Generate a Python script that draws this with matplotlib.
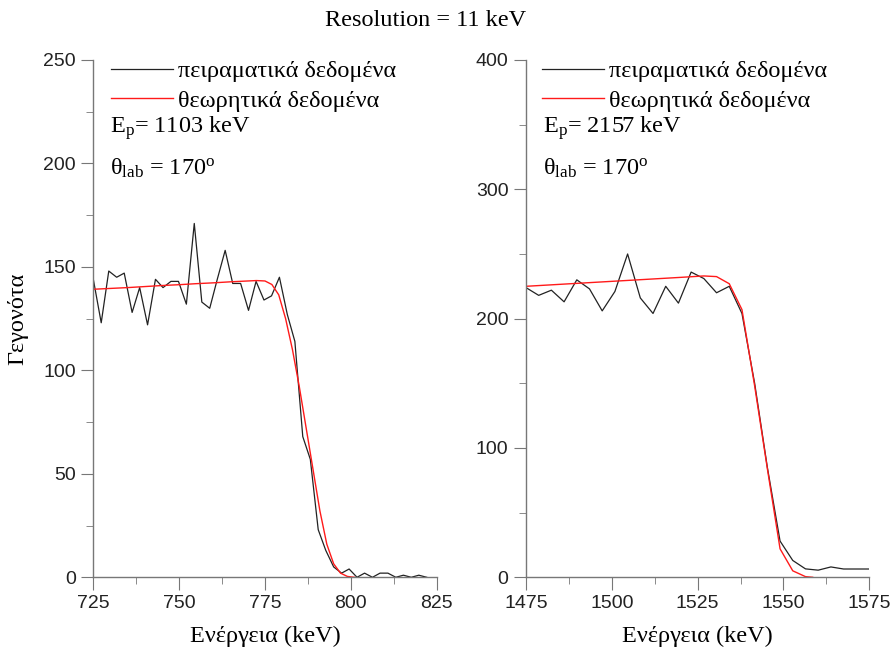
import matplotlib
matplotlib.use("Agg")
import matplotlib.pyplot as plt
from matplotlib.ticker import MultipleLocator

plt.rcParams["mathtext.fontset"] = "custom"
plt.rcParams["mathtext.rm"] = "Liberation Serif"
plt.rcParams["mathtext.it"] = "Liberation Serif:italic"

SERIF = "Liberation Serif"
SANS = "Liberation Sans"
FS = 17.5

# left panel, Ep = 1103 keV
exp1_x = [725.0, 727.3, 729.5, 731.8, 734.0, 736.3, 738.5, 740.8, 743.1, 745.3,
          747.6, 749.8, 752.1, 754.4, 756.6, 758.9, 761.1, 763.4, 765.6, 767.9,
          770.2, 772.4, 774.7, 776.9, 779.2, 781.5, 783.7, 786.0, 788.2, 790.5,
          792.7, 795.0, 797.3, 799.5, 801.8, 804.0, 806.3, 808.5, 810.8, 813.1,
          815.3, 817.6, 819.8, 822.1]
exp1_y = [144, 123, 148, 145, 147, 128, 140, 122, 144, 140,
          143, 143, 132, 171, 133, 130, 144, 158, 142, 142,
          129, 143, 134, 136, 145, 127, 114, 68, 57, 23,
          13, 5, 2, 4, 0, 2, 0, 2, 2, 0,
          1, 0, 1, 0]
th1_x = [725, 730, 735, 740, 745, 750, 755, 760, 765, 770, 772.5, 775, 777, 779,
         781, 783, 785, 787, 789, 791, 793, 795, 797, 799, 801]
th1_y = [139.2, 139.6, 140.0, 140.5, 141.0, 141.4, 141.9, 142.3, 142.8, 143.2,
         143.4, 143.2, 141.5, 136.5, 125, 110, 92, 72, 52, 32, 16, 6.5, 2, 0.4, 0]

# right panel, Ep = 2157 keV
exp2_x = [1475.0, 1478.7, 1482.4, 1486.1, 1489.8, 1493.5, 1497.2, 1500.9, 1504.6, 1508.3,
          1512.0, 1515.7, 1519.4, 1523.1, 1526.8, 1530.5, 1534.2, 1537.9, 1541.6, 1545.3,
          1549.0, 1552.7, 1556.4, 1560.1, 1563.8, 1567.5, 1571.2, 1575.0]
exp2_y = [224, 218, 222, 213, 230, 223, 206, 221, 250, 216,
          204, 225, 212, 236, 231, 220, 225, 204, 150, 85,
          28, 13, 6.5, 5.5, 8, 6.4, 6.4, 6.4]
th2_x = [1475, 1490, 1505, 1520, 1526.8, 1530.5, 1534.2, 1537.9, 1541.6, 1545.3,
         1549.0, 1552.7, 1556.4, 1558.5]
th2_y = [225.0, 227.3, 229.6, 231.9, 233.0, 232.5, 227, 207, 148, 84,
         22, 5, 0.5, 0]

panels = [
    (exp1_x, exp1_y, th1_x, th1_y, (725, 825), (0, 250), 50, 25, "1103", 0.023),
    (exp2_x, exp2_y, th2_x, th2_y, (1475, 1575), (0, 400), 100, 50, "2157", 0.019),
]

fig = plt.figure(figsize=(8.93, 6.52), dpi=100)
lefts = [0.1045, 0.589]

for left, (ex, ey, tx, ty, xl, yl, ymaj, ymin, ep, lx) in zip(lefts, panels):
    ax = fig.add_axes([left, 0.1146, 0.3845, 0.7934])
    ax.plot(ex, ey, color="#222222", lw=0.9, label="πειραματικά δεδομένα")
    ax.plot(tx, ty, color="#ff1a1a", lw=1.0, label="θεωρητικά δεδομένα")
    ax.set_xlim(*xl)
    ax.set_ylim(*yl)
    ax.xaxis.set_major_locator(MultipleLocator(25))
    ax.xaxis.set_minor_locator(MultipleLocator(12.5))
    ax.yaxis.set_major_locator(MultipleLocator(ymaj))
    ax.yaxis.set_minor_locator(MultipleLocator(ymin))
    for s in ["top", "right"]:
        ax.spines[s].set_visible(False)
    for s in ["left", "bottom"]:
        ax.spines[s].set_color("#777777")
        ax.spines[s].set_linewidth(1.0)
    ax.tick_params(which="major", length=9, color="#777777", labelsize=14,
                   labelcolor="#222222")
    ax.tick_params(which="minor", length=5, color="#777777")
    for lab in ax.get_xticklabels() + ax.get_yticklabels():
        lab.set_fontfamily(SANS)

    ax.legend(loc="upper left", bbox_to_anchor=(lx, 1.018), frameon=False,
              handlelength=2.55, handletextpad=0.2, labelspacing=0.3,
              borderaxespad=0, prop={"family": SERIF, "size": FS})
    ax.text(0.049, 0.869, r"E$_{\mathrm{p}}$= " + ep + " keV", transform=ax.transAxes,
            fontsize=FS, family=SERIF, va="center")
    ax.text(0.049, 0.791, r"θ$_{\mathrm{lab}}$ = 170$^{\mathrm{o}}$", transform=ax.transAxes,
            fontsize=FS, family=SERIF, va="center")

    ax.set_xlabel("Ενέργεια (keV)", fontsize=FS, family=SERIF)
    ax.xaxis.set_label_coords(0.5, -0.115)
    ax.xaxis.label.set_va("center")
    if left < 0.5:
        ax.set_ylabel("Γεγονότα", fontsize=FS, family=SERIF)
        ax.yaxis.set_label_coords(-0.219, 0.5)
        ax.yaxis.label.set_va("center")

fig.text(0.476, 0.969, "Resolution = 11 keV", ha="center", va="center",
         fontsize=FS, family=SERIF)

fig.savefig("out.png", dpi=100)
